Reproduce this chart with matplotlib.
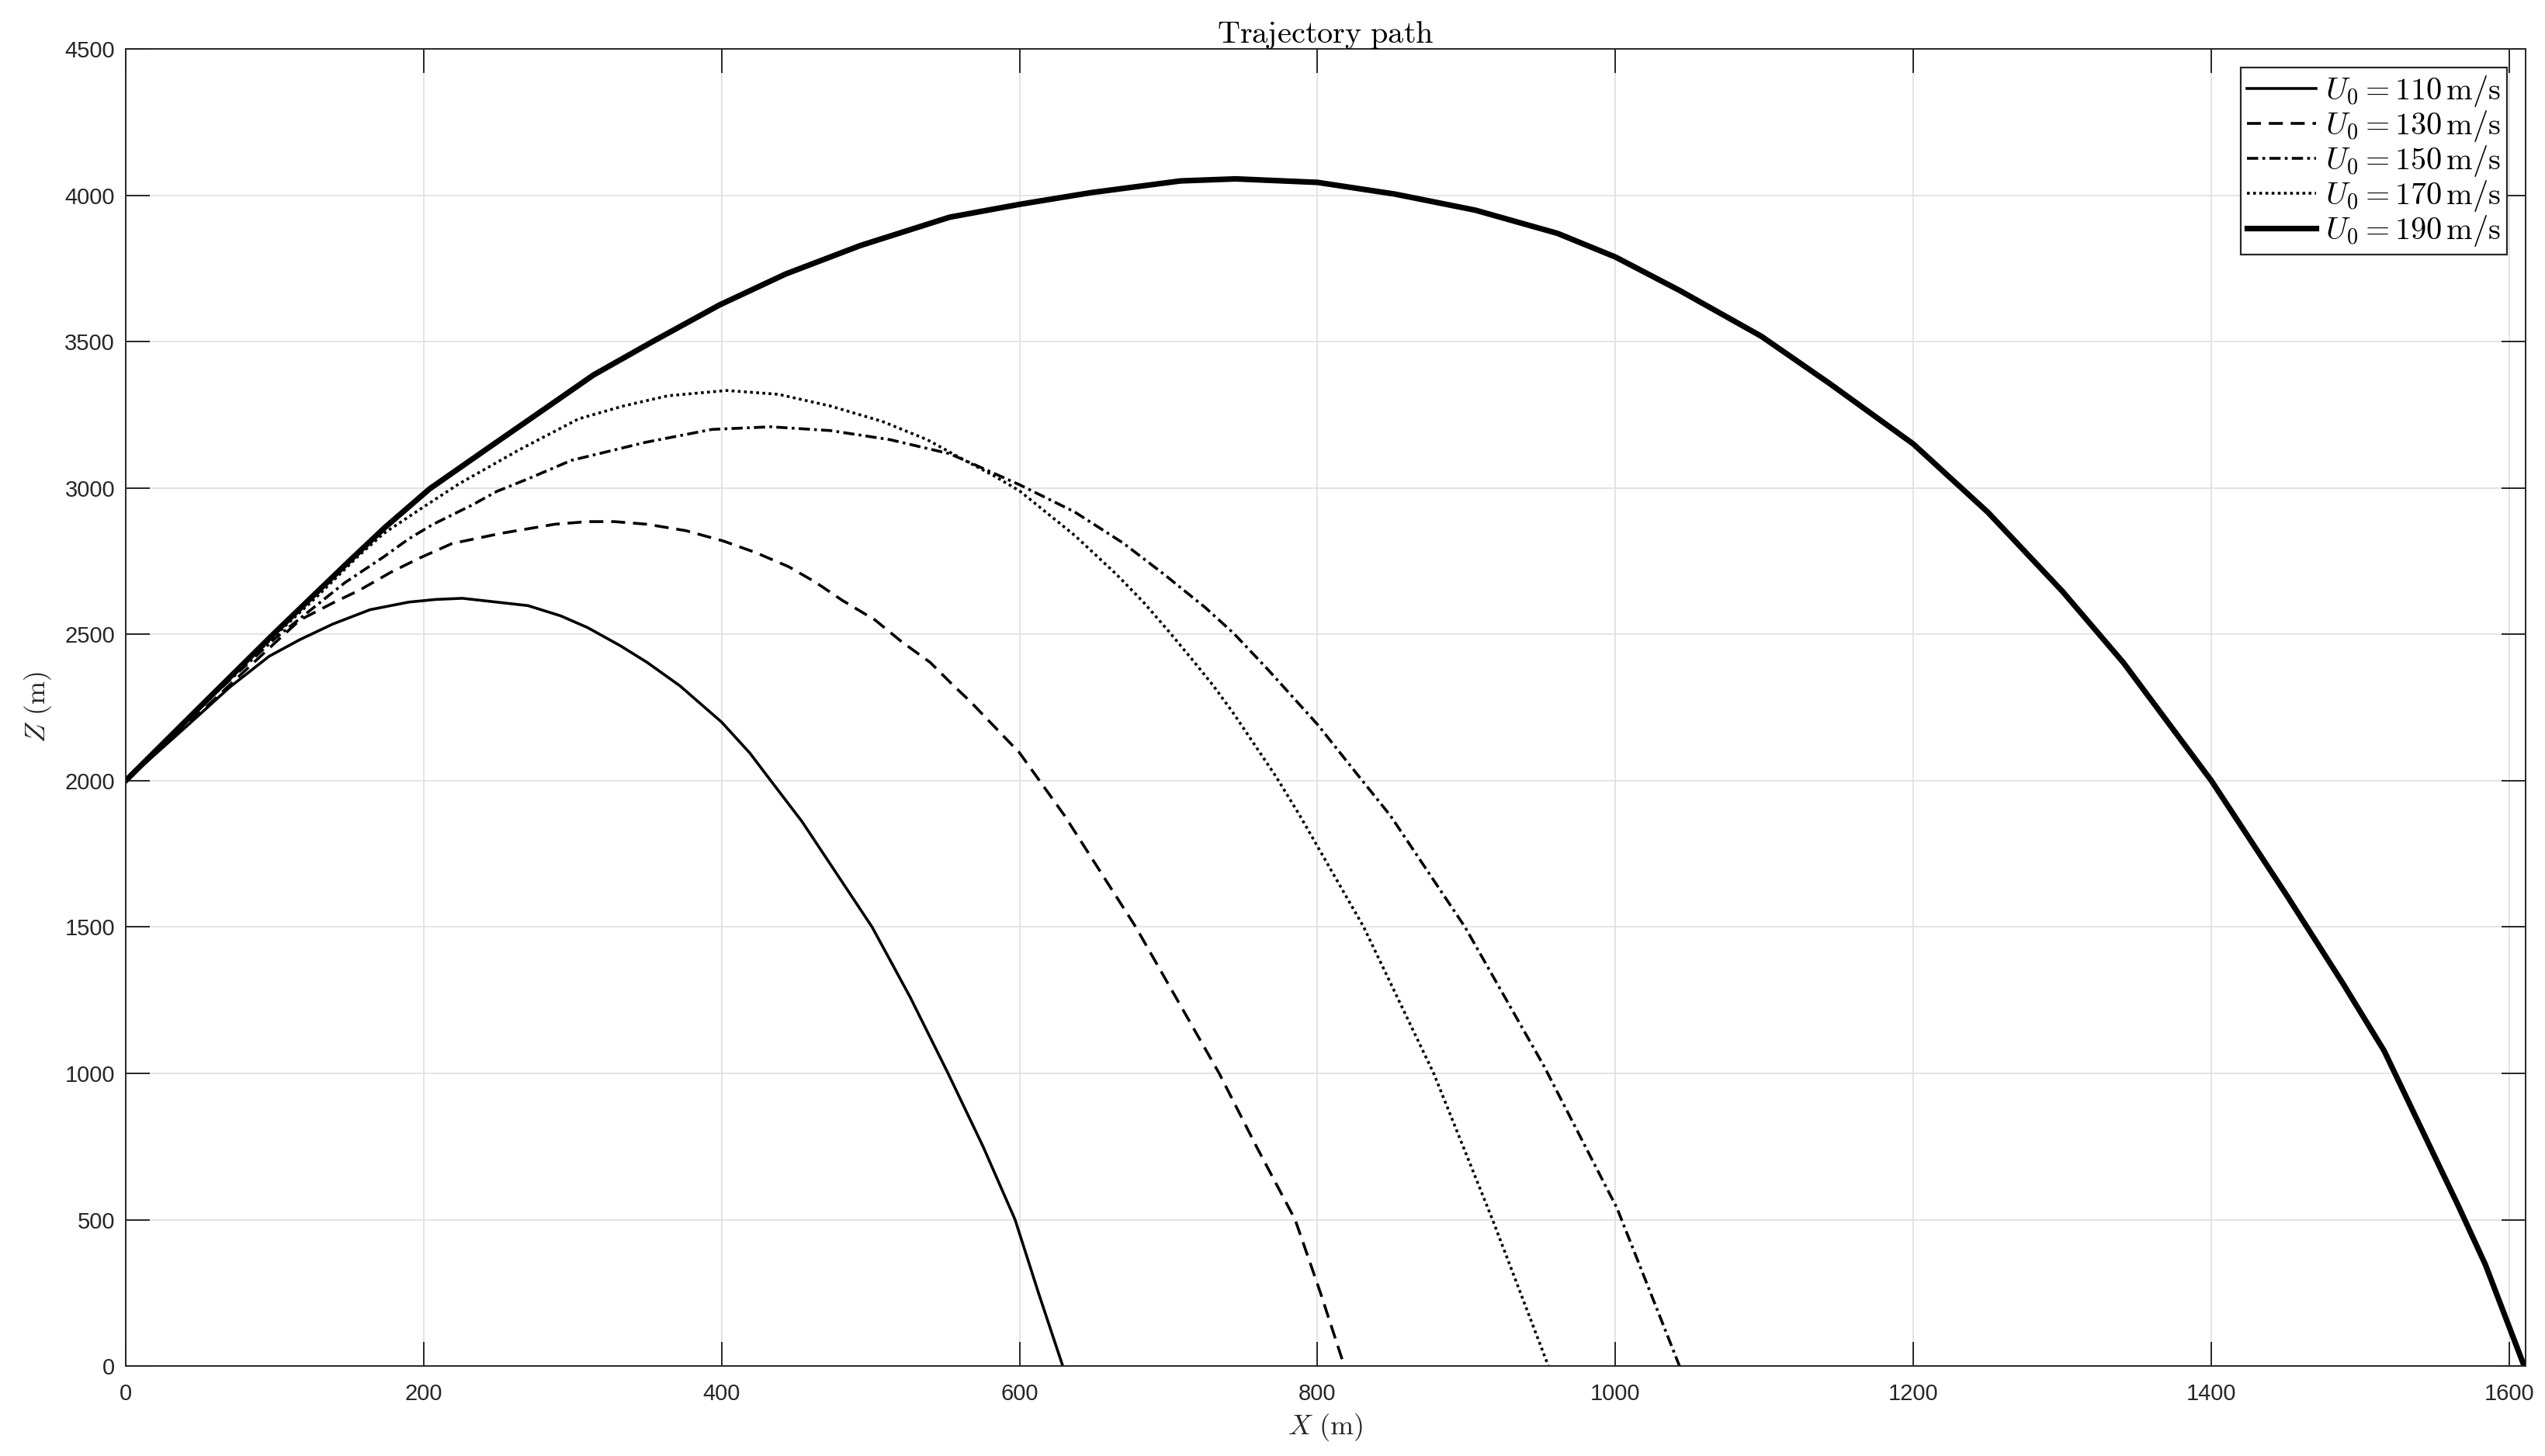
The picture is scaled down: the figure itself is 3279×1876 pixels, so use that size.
"""Trajectory path: Z vs X for five launch speeds (MATLAB-style figure)."""
import numpy as np
import matplotlib
matplotlib.use("Agg")
import matplotlib.pyplot as plt

plt.rcParams["mathtext.fontset"] = "cm"
plt.rcParams["font.family"] = ["Liberation Sans", "DejaVu Sans"]

# values
x110 = [0, 42, 70, 96.3, 117, 139, 164, 190, 208, 226, 270, 292, 310, 332, 350,
        372, 400, 419, 433, 454, 501, 526.6, 552, 575.5, 597, 612.7, 629]
z110 = [2000, 2191, 2320, 2425, 2482, 2535, 2584, 2610, 2619, 2623, 2598, 2563,
        2523, 2461, 2404, 2324, 2200, 2094, 2000, 1860, 1500, 1260, 1000, 750,
        500, 250, 0]

x130 = [0, 42, 70, 100, 117, 139, 157, 178, 197, 219, 252, 288, 310, 328, 350,
        376, 401, 423, 445, 463, 481, 503, 521, 540, 554, 567, 600, 630, 678,
        734, 759, 785, 802, 818]
z130 = [2000, 2195, 2328, 2470, 2549, 2607, 2651, 2712, 2760, 2810, 2845, 2876,
        2885, 2885, 2876, 2854, 2819, 2779, 2731, 2678, 2616, 2549, 2474, 2404,
        2333, 2270, 2095, 1882, 1500, 1000, 750, 500, 250, 0]

x150 = [0, 50, 100, 147, 173, 190, 206, 233, 249, 270, 299, 349, 393.5, 433,
        473, 513, 553, 567, 600, 637, 669.5, 697, 725, 744, 767, 800, 823, 849,
        899, 952, 1001, 1043]
z150 = [2000, 2250, 2485, 2676, 2764, 2826, 2875, 2943, 2988, 3031, 3094, 3156,
        3200, 3209, 3196, 3165, 3117, 3086, 3011, 2918, 2812, 2705, 2590, 2502,
        2378, 2192, 2045, 1880, 1500, 1025, 540, 0]

x170 = [0, 50, 100, 129, 155.6, 173, 199, 224, 264, 304, 334, 364, 403.5, 438,
        473, 508, 538, 563, 583, 600, 637, 665, 683.5, 700, 716, 730, 744, 758,
        772, 788, 831, 878, 917.5, 955]
z170 = [2000, 2252, 2495, 2632, 2765, 2844, 2932, 3015, 3130, 3236, 3280, 3315,
        3333, 3320, 3280, 3227, 3165, 3095, 3041, 2990, 2838, 2705, 2608, 2511,
        2413, 2325, 2227, 2121, 2015, 1882, 1500, 1000, 500, 0]

x190 = [0, 50, 100, 150, 174, 204, 244, 284, 314, 354, 398.5, 443, 493, 553,
        600, 648, 708, 745, 800, 852, 906, 961, 1000, 1043, 1098, 1144, 1200,
        1250, 1300, 1341, 1400, 1451, 1488, 1516, 1566, 1584, 1610]
z190 = [2000, 2253, 2505, 2750, 2865, 2997, 3139, 3280, 3386, 3501, 3625, 3731,
        3828, 3925, 3969, 4009, 4049, 4056, 4044, 4004, 3949, 3870, 3789, 3675,
        3518, 3356, 3150, 2917, 2647, 2403, 2000, 1605, 1310, 1077, 545, 346, 0]

speeds = [110, 130, 150, 170, 190]
xticks = np.arange(0, 1601, 200)
yticks = np.arange(0, 4501, 500)

DARK = "#262626"

fig = plt.figure(figsize=(16.395, 9.38), dpi=200)
ax = fig.add_axes([0.0494, 0.0618, 0.9430, 0.9046])

series = [
    (x110, z110, dict(ls="-", lw=1.3)),
    (x130, z130, dict(ls=(0, (5, 2.8)), lw=1.3)),
    (x150, z150, dict(ls=(0, (4, 1.5, 1, 1.5)), lw=1.3)),
    (x170, z170, dict(ls=(0, (1, 1.2)), lw=1.3)),
    (x190, z190, dict(ls="-", lw=2.6)),
]
for (xs, zs, st), u in zip(series, speeds):
    ax.plot(xs, zs, color="black", label=rf"$U_0 = {u}\,\mathrm{{m/s}}$", **st)

ax.set_xlim(0, 1611)
ax.set_ylim(0, 4500)
ax.set_xticks(xticks)
ax.set_yticks(yticks)
ax.grid(True, color="#dfdfdf", lw=0.6)
ax.set_axisbelow(True)
for s in ax.spines.values():
    s.set_color(DARK)
    s.set_linewidth(0.7)
ax.tick_params(direction="in", length=11, width=0.7, color=DARK,
               labelcolor=DARK, labelsize=10.5, top=True, right=True)
ax.tick_params(axis="x", pad=8)
ax.tick_params(axis="y", pad=5)

ax.set_title(r"$\mathrm{Trajectory\ path}$", fontsize=14.5, pad=3)
ax.set_xlabel(r"$X\ \mathrm{(m)}$", fontsize=13, color=DARK, labelpad=3)
ax.set_ylabel(r"$Z\ \mathrm{(m)}$", fontsize=13, color=DARK, labelpad=5)

leg = ax.legend(loc="upper right", fontsize=14.5, fancybox=False, framealpha=1,
                edgecolor=DARK, handlelength=2.2, handletextpad=0.3,
                labelspacing=0.0, borderpad=0.2, borderaxespad=0.6)
leg.get_frame().set_linewidth(0.8)

fig.savefig("out.png", dpi=200)
